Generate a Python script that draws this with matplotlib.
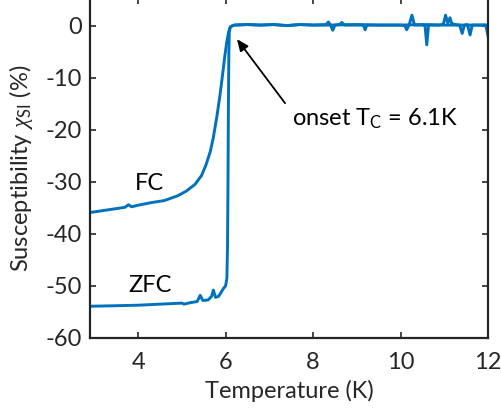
import matplotlib
matplotlib.use("Agg")
import matplotlib.pyplot as plt

plt.rcParams['font.family'] = ['Lato', 'DejaVu Sans']
plt.rcParams['mathtext.fontset'] = 'custom'
plt.rcParams['mathtext.rm'] = 'Lato'
plt.rcParams['mathtext.it'] = 'Liberation Serif:italic'
plt.rcParams['mathtext.sf'] = 'Lato'
plt.rcParams['axes.unicode_minus'] = False

# temperature (K) / susceptibility (%)
fc_t = [2.9, 3.3, 3.7, 3.78, 3.85, 4.0, 4.3, 4.6, 4.9, 5.1, 5.3, 5.45, 5.55, 5.65,
        5.72, 5.8, 5.87, 5.93, 5.98, 6.03, 6.07, 6.1, 6.14, 6.2,
        6.5, 6.8, 7.1, 7.4, 7.7, 8.0, 8.4, 9.0, 9.5, 10.0, 10.5, 11.0, 11.5, 12.0]
fc_v = [-35.9, -35.4, -34.9, -34.4, -34.8, -34.5, -34.0, -33.6, -32.7, -31.8, -30.5, -28.8, -26.8, -24.2,
        -21.5, -17.5, -13.5, -9.5, -6.0, -3.0, -1.2, -0.4, -0.1, 0.1,
        0.2, 0.1, 0.2, 0.0, 0.2, 0.1, 0.1, 0.2, 0.1, 0.1, 0.2, 0.1, 0.1, 0.1]

zfc_t = [2.9, 3.5, 4.0, 4.5, 5.0, 5.05, 5.2, 5.35, 5.42, 5.48, 5.6, 5.68, 5.72, 5.77,
         5.84, 5.9, 5.95, 6.0, 6.03, 6.045, 6.055, 6.065, 6.075, 6.085, 6.11, 6.2,
         6.5, 6.8, 7.1, 7.4, 7.7, 8.0, 8.3, 8.35, 8.4, 8.45, 8.5, 8.6, 8.66, 8.72,
         9.0, 9.15, 9.19, 9.23, 9.6, 10.0, 10.1, 10.14, 10.2, 10.26, 10.32, 10.5,
         10.56, 10.6, 10.64, 10.9, 10.98, 11.03, 11.08, 11.13, 11.17, 11.25, 11.35,
         11.41, 11.46, 11.53, 11.59, 11.64, 11.8, 11.95, 12.0]
zfc_v = [-53.9, -53.8, -53.7, -53.5, -53.3, -53.5, -53.2, -53.0, -51.8, -52.8, -52.7, -52.0, -50.8, -52.2,
         -52.0, -51.2, -50.5, -50.0, -48.5, -42.0, -30.0, -15.0, -5.0, -1.2, -0.2, 0.1,
         0.2, 0.1, 0.2, 0.0, 0.2, 0.1, 0.2, 0.7, 0.1, -0.9, 0.1, 0.2, 0.6, 0.1,
         0.1, 0.1, -0.8, 0.1, 0.1, 0.1, 0.0, -0.8, 0.2, 2.0, 0.1, 0.1,
         0.0, -3.7, 0.1, 0.1, 0.3, 2.0, 0.5, 1.5, 0.4, 0.2, 0.1,
         -1.5, 0.1, 0.2, -1.8, 0.1, 0.1, 0.1, -2.0]

xticks = [4, 6, 8, 10, 12]
yticks = [-60, -50, -40, -30, -20, -10, 0]

blue = '#0072BD'
grey = '#262626'
fs = 17

fig = plt.figure(figsize=(5.01, 4.08), dpi=100)
ax = fig.add_axes([90 / 501, 70 / 408, 398 / 501, 340 / 408])

ax.plot(fc_t, fc_v, color=blue, lw=2.1)
ax.plot(zfc_t, zfc_v, color=blue, lw=2.1)

ax.set_xlim(2.9, 12)
ax.set_ylim(-60, 5.3)
ax.set_xticks(xticks)
ax.set_yticks(yticks)
ax.tick_params(direction='in', top=True, right=True, length=4, width=1.2,
               color=grey, labelcolor=grey, labelsize=fs)
ax.tick_params(axis='x', pad=10)
ax.tick_params(axis='y', pad=6)
for s in ax.spines.values():
    s.set_linewidth(1.6)
    s.set_color(grey)

ax.set_xlabel('Temperature (K)', fontsize=fs, color=grey, labelpad=5)
ax.set_ylabel(r'Susceptibility $\chi_{\mathrm{SI}}$ (%)', fontsize=fs, color=grey)
ax.yaxis.set_label_coords(-0.138, 0.5)

ax.text(3.93, -30.4, 'FC', fontsize=fs, va='center', ha='left')
ax.text(3.78, -50.0, 'ZFC', fontsize=fs, va='center', ha='left')
ax.text(7.51, -18.0, r'onset T$_{\mathrm{C}}$ = 6.1K', fontsize=fs, va='center', ha='left')
ax.annotate('', xy=(6.26, -2.6), xytext=(7.36, -14.9),
            arrowprops=dict(arrowstyle='-|>,head_length=0.7,head_width=0.3',
                            color='black', lw=1.3, shrinkA=0, shrinkB=0))

fig.savefig('out.png', dpi=100)
